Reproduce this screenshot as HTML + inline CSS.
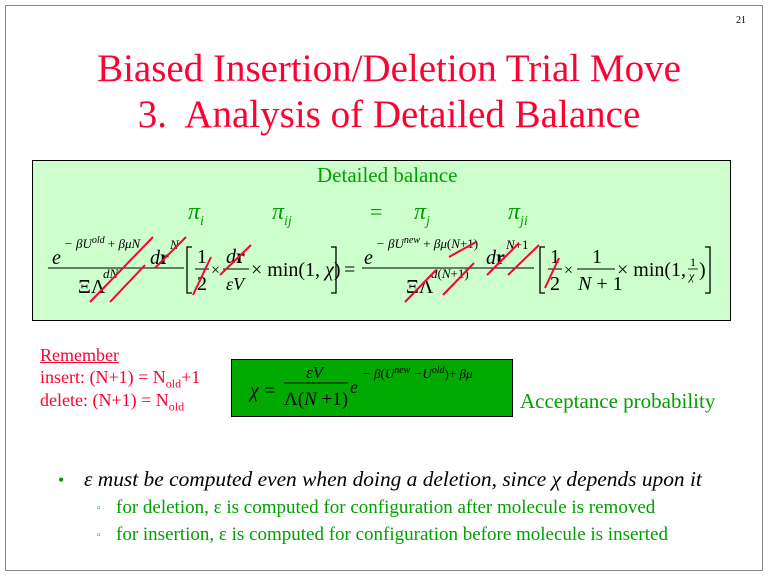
<!DOCTYPE html>
<html><head><meta charset="utf-8"><style>
body{margin:0;width:768px;height:576px;background:#fff;position:relative;overflow:hidden;font-family:"Liberation Serif",serif}
.a{position:absolute;white-space:nowrap}
.i{font-style:italic}
.g{color:#00a000}
.r{color:#ff0033}
svg text{font-family:"Liberation Serif",serif}
</style></head><body>
<div class="a" style="left:5px;top:5px;width:756px;height:564px;border:1px solid #888"></div>
<div class="a" style="left:736px;top:15px;font-size:10px">21</div>
<div class="a r" style="left:0;width:778px;top:46px;text-align:center;font-size:39px;line-height:46px">Biased Insertion/Deletion Trial Move<br>3.&nbsp; Analysis of Detailed Balance</div>
<div class="a" style="left:32px;top:160px;width:697px;height:159px;background:#ccffcc;border:1px solid #000"></div>
<div class="a g" style="left:317px;top:163px;font-size:21px">Detailed balance</div>
<div class="a g i" style="left:188px;top:199px;font-size:24px">π<sub style="font-size:14px">i</sub></div>
<div class="a g i" style="left:272px;top:199px;font-size:24px">π<sub style="font-size:14px">ij</sub></div>
<div class="a g" style="left:370px;top:199px;font-size:22px">=</div>
<div class="a g i" style="left:414px;top:199px;font-size:24px">π<sub style="font-size:14px">j</sub></div>
<div class="a g i" style="left:508px;top:199px;font-size:24px">π<sub style="font-size:14px">ji</sub></div>
<svg class="a" style="left:0;top:0" width="768" height="576">
<g font-size="20">
<!-- left fraction -->
<text x="52" y="264" font-style="italic">e</text>
<text x="64" y="248" font-size="13" font-style="italic">− βU<tspan font-size="10" dy="-5">old</tspan><tspan dy="5" font-style="normal"> + </tspan>βμN</text>
<text x="150" y="264"><tspan font-style="italic">d</tspan><tspan font-weight="bold">r</tspan></text>
<text x="170" y="249" font-size="13" font-style="italic">N</text>
<line x1="48" y1="268" x2="184" y2="268" stroke="#000"/>
<text x="78" y="293">ΞΛ</text>
<text x="103" y="278" font-size="13" font-style="italic">dN</text>
<!-- bracket 1 -->
<path d="M192,247 H187 V293 H192" fill="none" stroke="#000" stroke-width="1.3"/>
<text x="197" y="263">1</text>
<line x1="195" y1="269" x2="209" y2="269" stroke="#000"/>
<text x="197" y="290">2</text>
<text x="211" y="275" font-size="16">×</text>
<text x="226" y="263"><tspan font-style="italic">d</tspan><tspan font-weight="bold">r</tspan></text>
<line x1="223" y1="269" x2="249" y2="269" stroke="#000"/>
<text x="226" y="290" font-style="italic" font-size="18">εV</text>
<text x="251" y="276">× min(1, <tspan font-style="italic">χ</tspan>)</text>
<path d="M331,247 H336 V293 H331" fill="none" stroke="#000" stroke-width="1.3"/>
<text x="344" y="276">=</text>
<!-- right fraction -->
<text x="364" y="264" font-style="italic">e</text>
<text x="376" y="248" font-size="13"><tspan font-style="italic">− βU</tspan><tspan font-size="10" dy="-5" font-style="italic">new</tspan><tspan dy="5"> + </tspan><tspan font-style="italic">βμ</tspan>(<tspan font-style="italic">N</tspan>+1)</text>
<text x="486" y="264"><tspan font-style="italic">d</tspan><tspan font-weight="bold">r</tspan></text>
<text x="506" y="249" font-size="13"><tspan font-style="italic">N</tspan>+1</text>
<line x1="362" y1="268" x2="534" y2="268" stroke="#000"/>
<text x="406" y="293">ΞΛ</text>
<text x="431" y="278" font-size="13"><tspan font-style="italic">d</tspan>(<tspan font-style="italic">N</tspan>+1)</text>
<path d="M545,247 H540 V293 H545" fill="none" stroke="#000" stroke-width="1.3"/>
<text x="550" y="263">1</text>
<line x1="548" y1="269" x2="562" y2="269" stroke="#000"/>
<text x="550" y="290">2</text>
<text x="564" y="275" font-size="16">×</text>
<text x="592" y="263">1</text>
<line x1="577" y1="269" x2="615" y2="269" stroke="#000"/>
<text x="578" y="290"><tspan font-style="italic">N</tspan> + 1</text>
<text x="617" y="276">× min(1,</text>
<text x="690" y="266" font-size="12">1</text>
<line x1="688" y1="269" x2="698" y2="269" stroke="#000" stroke-width=".8"/>
<text x="689" y="280" font-size="12" font-style="italic">χ</text>
<text x="699" y="276">)</text>
<path d="M705,247 H710 V293 H705" fill="none" stroke="#000" stroke-width="1.3"/>
</g>
<g stroke="#ff0033" stroke-width="2">
<line x1="90" y1="302" x2="153" y2="237"/>
<line x1="110" y1="302" x2="145" y2="265"/>
<line x1="155" y1="268" x2="186" y2="237"/>
<line x1="193" y1="295" x2="211" y2="257"/>
<line x1="220" y1="275" x2="251" y2="245"/>
<line x1="405" y1="302" x2="436" y2="270"/>
<line x1="443" y1="295" x2="474" y2="263"/>
<line x1="449" y1="257" x2="476" y2="242"/>
<line x1="487" y1="275" x2="519" y2="243"/>
<line x1="508" y1="275" x2="539" y2="245"/>
<line x1="545" y1="288" x2="559" y2="258"/>
</g>
</svg>
<div class="a r" style="left:40px;top:345px;font-size:18px;text-decoration:underline">Remember</div>
<div class="a r" style="left:40px;top:367px;font-size:18px">insert: (N+1) = N<sub style="font-size:12px">old</sub>+1</div>
<div class="a r" style="left:40px;top:390px;font-size:18px">delete: (N+1) = N<sub style="font-size:12px">old</sub></div>
<div class="a" style="left:231px;top:359px;width:280px;height:56px;background:#00aa00;border:1px solid #000"></div>
<svg class="a" style="left:0;top:0" width="768" height="576">
<text x="250" y="397" font-size="20" font-style="italic">χ</text>
<text x="264" y="397" font-size="20">=</text>
<text x="306" y="378" font-size="17" font-style="italic">εV</text>
<line x1="284" y1="383" x2="348" y2="383" stroke="#000"/>
<text x="284" y="405" font-size="19">Λ(<tspan font-style="italic">N</tspan> +1)</text>
<text x="350" y="393" font-size="18" font-style="italic">e</text>
<text x="362" y="378" font-size="13"><tspan font-style="italic">− β</tspan>(<tspan font-style="italic">U</tspan><tspan font-size="10" dy="-5" font-style="italic">new</tspan><tspan dy="5" font-style="italic"> −U</tspan><tspan font-size="10" dy="-5" font-style="italic">old</tspan><tspan dy="5">)+ </tspan><tspan font-style="italic">βμ</tspan></text>
</svg>
<div class="a g" style="left:520px;top:389px;font-size:21px">Acceptance probability</div>
<div class="a g" style="left:58px;top:470px;font-size:18px">•</div>
<div class="a i" style="left:84px;top:467px;font-size:21.4px">ε must be computed even when doing a deletion, since χ depends upon it</div>
<div class="a g" style="left:97px;top:503px;font-size:10px">▫</div>
<div class="a g" style="left:116px;top:497px;font-size:19px">for deletion, ε is computed for configuration after molecule is removed</div>
<div class="a g" style="left:97px;top:530px;font-size:10px">▫</div>
<div class="a g" style="left:116px;top:524px;font-size:19px">for insertion, ε is computed for configuration before molecule is inserted</div>
</body></html>
